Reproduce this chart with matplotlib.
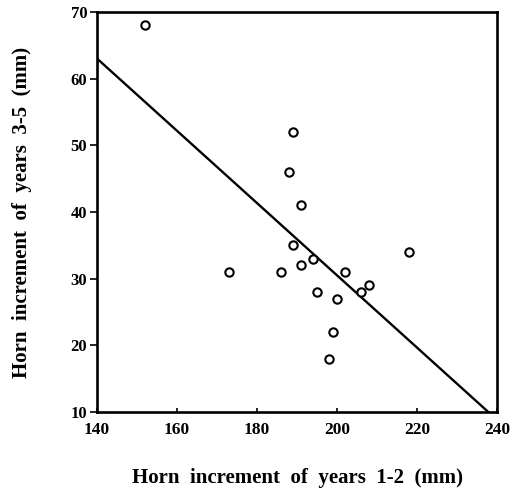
import matplotlib
matplotlib.use("Agg")
import matplotlib.pyplot as plt
import numpy as np

# Data
x_vals = [152, 173, 186, 188, 189, 189, 191, 191, 194, 195, 198, 199, 200, 202, 206, 208, 218]
y_vals = [68, 31, 31, 46, 52, 35, 41, 32, 33, 28, 18, 22, 27, 31, 28, 29, 34]
line_intercept = 138.9
line_slope = -0.542
x_ticks = [140, 160, 180, 200, 220, 240]
y_ticks = [10, 20, 30, 40, 50, 60, 70]

plt.rcParams['font.family'] = ['Liberation Serif', 'DejaVu Serif']
plt.rcParams['font.weight'] = 'bold'

fig = plt.figure(figsize=(5.17, 4.93), dpi=100)
ax = fig.add_axes([97/517, 1 - 412/493, 400/517, 400/493])

ax.plot(x_vals, y_vals, linestyle='none', marker='o', markersize=6,
        markerfacecolor='white', markeredgecolor='black', markeredgewidth=1.5, zorder=3)

lx = np.array([140, (10 - line_intercept) / line_slope])
ax.plot(lx, line_intercept + line_slope * lx, color='black', linewidth=1.7, zorder=2)

ax.set_xlim(140, 240)
ax.set_ylim(10, 70)
ax.set_xticks(x_ticks)
ax.set_yticks(y_ticks)
ax.set_xticklabels([str(v) for v in x_ticks], fontsize=12.5, fontweight='bold')
ax.set_yticklabels([str(v) for v in y_ticks], fontsize=12, fontweight='bold')
ax.tick_params(axis='x', direction='in', length=3, width=1.2, pad=7)
ax.tick_params(axis='y', direction='out', length=5, width=1.2, pad=2)
for s in ax.spines.values():
    s.set_linewidth(1.9)

ax.set_xlabel('Horn  increment  of  years  1-2  (mm)', fontsize=15, fontweight='bold', labelpad=22)
ax.set_ylabel('Horn  increment  of  years  3-5  (mm)', fontsize=15, fontweight='bold', labelpad=28)

fig.savefig('out.png', dpi=100)
